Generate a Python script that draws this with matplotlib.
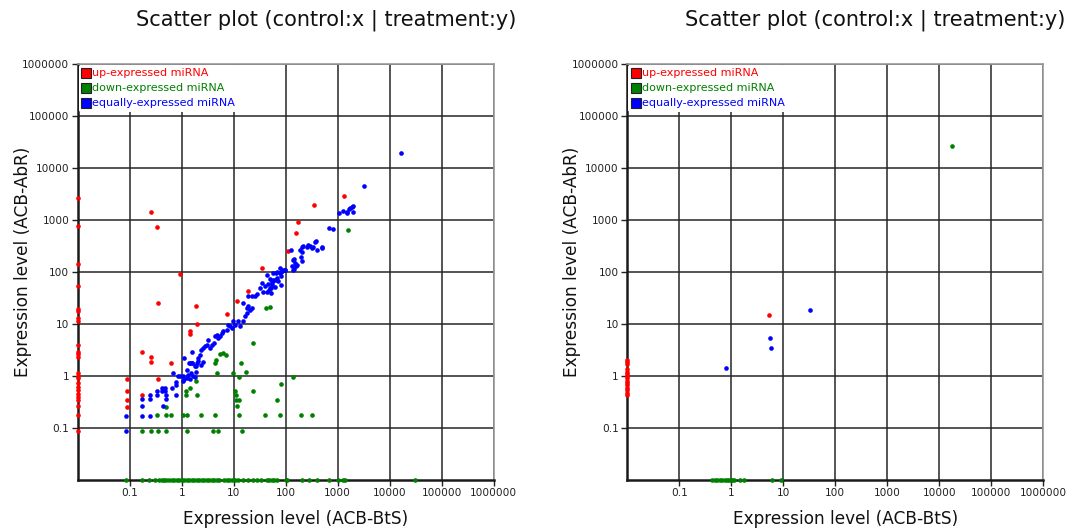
import numpy as np
import matplotlib
matplotlib.use("Agg")
import matplotlib.pyplot as plt
from matplotlib.lines import Line2D

# ---------------- text ----------------
title = "Scatter plot (control:x | treatment:y)"
xlabel = "Expression level (ACB-BtS)"
ylabel = "Expression level (ACB-AbR)"
legend_labels = ["up-expressed miRNA", "down-expressed miRNA", "equally-expressed miRNA"]
colors = ["#ff0000", "#008000", "#0000ff"]
tick_values = [0.1, 1, 10, 100, 1000, 10000, 100000, 1000000]
tick_labels = ["0.1", "1", "10", "100", "1000", "10000", "100000", "1000000"]
floor_value = 0.01   # zero expression drawn on the axis floor

# ---------------- left panel data ----------------
up1_zero_y = [2700, 780, 143, 55, 19.5, 17.8, 13.2, 11.4, 3.9, 2.9, 2.65, 2.35, 1.12, 1.0,
              0.9, 0.72, 0.62, 0.54, 0.46, 0.4, 0.35, 0.26, 0.18, 0.088]
up1_x = [0.254, 0.335, 0.93, 34.5, 19, 112, 157, 170, 1320, 356, 11.8, 7.3, 1.86, 1.94, 1.45,
         1.45, 0.35, 0.175, 0.26, 0.26, 0.61, 0.35, 0.09, 0.09, 0.09, 0.09, 0.175]
up1_y = [1425, 724, 92, 118, 44, 250, 555, 900, 2930, 1940, 28, 15.6, 21.9, 10, 7.2,
         6.5, 25.7, 2.94, 2.35, 1.83, 1.75, 0.875, 0.875, 0.51, 0.345, 0.257, 0.44]

down1_x = [1580, 50, 42.5, 24, 14, 17, 12.6, 9.9, 4.6, 4.85, 5.5, 6.3, 7.2, 4.3, 138, 80, 69,
           23, 10.7, 11, 11.3, 11.7, 12.6, 1.47, 2.0, 1.23, 1.23, 0.51, 1.9,
           0.34, 0.51, 0.61, 1.06, 1.28, 2.3, 4.3, 12.6, 39.5, 78, 196, 316,
           0.175, 0.26, 0.35, 0.51, 1.28, 3.95, 5.0, 14.3]
down1_y = [635, 21.6, 20, 4.4, 1.75, 1.21, 0.97, 1.16, 2.03, 1.16, 2.6, 2.73, 2.53, 1.8, 0.97, 0.69, 0.345,
           0.52, 0.52, 0.43, 0.345, 0.26, 0.345, 0.6, 0.44, 0.44, 0.52, 0.257, 0.8,
           0.175, 0.175, 0.175, 0.175, 0.175, 0.175, 0.175, 0.175, 0.175, 0.175, 0.175, 0.175,
           0.088, 0.088, 0.088, 0.088, 0.088, 0.088, 0.088, 0.088]
down1_zero_x = [0.085, 0.17, 0.24, 0.31, 0.36, 0.41, 0.46, 0.51, 0.58, 0.64, 0.71, 0.8, 0.9, 1.0,
                1.11, 1.25, 1.4, 1.56, 1.73, 1.94, 2.19, 2.43, 2.69, 3.02, 3.4, 3.78, 4.2, 4.7,
                5.3, 6.5, 7.3, 8.3, 9.3, 10.6, 12.3, 15.3, 19, 24, 27.6, 33, 43, 48.5, 54, 60,
                69, 100, 105, 203, 285, 395, 690, 1030, 1250, 1380, 30700]

equal1_x = [16500, 3160, 1060, 1250, 1490, 1670, 1860, 2000, 1940, 1530, 1720, 671, 815,
            125, 188, 203, 218, 253, 272, 293, 316, 340, 366, 383, 395, 490, 500, 203, 147, 194,
            209, 134, 158, 136, 78, 83, 90, 97, 65, 58, 54, 50, 80, 62, 52, 136, 151, 163, 145,
            97, 84, 78, 67, 58, 50, 44, 54, 46, 40, 35, 32, 37, 28.5, 25.7, 22, 19, 43, 48.5,
            51.6, 55, 62, 67, 72, 81,
            14.9, 17.8, 19, 20.6, 22, 17.8, 16.5, 15.3, 13.3, 12.3, 10.6, 9.9, 9.1, 8.5, 7.9,
            7.3, 6.3, 5.9, 5.5, 5.1, 4.7, 4.4, 4.1, 3.8, 3.5, 3.26, 3.0, 2.8, 2.6, 2.4, 2.25,
            2.1, 2.6, 2.4, 1.94, 1.8, 1.56, 1.45, 1.25, 1.08, 1.08, 1.68,
            0.085, 0.085, 0.17, 0.17, 0.17, 0.25, 0.25, 0.25, 0.34, 0.34, 0.42, 0.48, 0.42, 0.48,
            0.51, 0.51, 0.43, 0.66, 0.77, 0.77, 0.76, 0.67, 0.84, 0.93, 1.13, 1.25, 1.34, 1.45,
            1.49, 1.1, 1.4, 1.56, 1.6, 1.89, 2.1, 1.89, 1.8]
equal1_y = [19400, 4500, 1380, 1510, 1450, 1610, 1800, 1860, 1450, 1380, 1680, 710, 660,
            265, 265, 298, 316, 298, 330, 316, 286, 307, 383, 395, 265, 307, 286, 246, 178, 197,
            163, 130, 130, 109, 118, 98, 109, 109, 94, 70, 61, 48.5, 56, 52, 40, 173, 148, 138, 116,
            111, 103, 96, 98, 96, 73, 89, 66, 60, 55, 61, 49, 42, 38, 34, 35, 35, 42, 46,
            49, 57, 69, 77, 66, 85,
            25, 20.3, 21.9, 18.9, 20.3, 16.3, 14, 11.2, 9.0, 11.2, 9.7, 11.2, 8.4, 9.0, 9.7,
            7.8, 7.2, 6.7, 6.0, 5.4, 6.2, 5.8, 4.3, 4.0, 3.45, 5.0, 4.0, 3.7, 3.45, 3.2, 2.57,
            2.2, 1.9, 1.65, 1.78, 1.53, 1.78, 1.78, 1.32, 1.01, 0.79, 0.99,
            0.17, 0.088, 0.355, 0.265, 0.17, 0.44, 0.355, 0.17, 0.52, 0.44, 0.6, 0.6, 0.52, 0.52,
            0.44, 0.355, 0.265, 0.6, 0.67, 0.78, 0.44, 1.16, 1.0, 1.0, 0.86, 0.93, 1.04, 0.86,
            1.12, 2.19, 1.75, 1.8, 2.94, 1.56, 1.94, 1.21, 0.97]

# ---------------- right panel data ----------------
up2_zero_y = [2.03, 1.83, 1.68, 1.34, 1.21, 1.09, 1.0, 0.9, 0.81, 0.74, 0.67, 0.6, 0.54, 0.48, 0.43]
up2_x = [5.2]
up2_y = [14.9]
down2_x = [17800]
down2_y = [26500]
down2_zero_x = [0.43, 0.48, 0.54, 0.6, 0.67, 0.74, 0.84, 0.9, 0.97, 1.05, 1.13, 1.47, 1.75, 6.1, 8.9]
equal2_x = [32, 5.5, 5.8, 0.78]
equal2_y = [18.6, 5.5, 3.5, 1.4]


def combine(zero_x, zero_y, xs, ys):
    x = np.array(list(zero_x) + list(xs), dtype=float)
    y = np.array(list(zero_y) + list(ys), dtype=float)
    return np.where(x > 0, x, floor_value), np.where(y > 0, y, floor_value)


panels = [
    dict(up=combine([0] * len(up1_zero_y), up1_zero_y, up1_x, up1_y),
         down=combine(down1_zero_x, [0] * len(down1_zero_x), down1_x, down1_y),
         equal=combine([], [], equal1_x, equal1_y),
         left=77.7),
    dict(up=combine([0] * len(up2_zero_y), up2_zero_y, up2_x, up2_y),
         down=combine(down2_zero_x, [0] * len(down2_zero_x), down2_x, down2_y),
         equal=combine([], [], equal2_x, equal2_y),
         left=627.3),
]

W, H = 1080, 531
fig = plt.figure(figsize=(W / 100, H / 100), dpi=100)
plt.rcParams["font.family"] = ["DejaVu Sans"]

for p in panels:
    ax = fig.add_axes([p["left"] / W, (H - 480) / H, 416 / W, 416 / H])
    ax.set_xscale("log")
    ax.set_yscale("log")
    ax.set_xlim(floor_value, 1e6)
    ax.set_ylim(floor_value, 1e6)
    ax.set_xticks(tick_values)
    ax.set_xticklabels(tick_labels)
    ax.set_yticks(tick_values)
    ax.set_yticklabels(tick_labels)
    ax.minorticks_off()
    ax.tick_params(axis="both", labelsize=7.6, length=4, width=1, color="#222222", pad=2,
                   labelcolor="#222222")
    ax.grid(True, color="#262626", linewidth=1.1)
    ax.set_axisbelow(True)
    for side in ("left", "bottom"):
        ax.spines[side].set_linewidth(1.8)
        ax.spines[side].set_color("#1a1a1a")
    for side in ("top", "right"):
        ax.spines[side].set_linewidth(1.2)
        ax.spines[side].set_color("#9a9a9a")

    for key, c in zip(("up", "down", "equal"), colors):
        x, y = p[key]
        ax.scatter(x, y, s=11, c=c, linewidths=0, zorder=5, clip_on=False)

    handles = [Line2D([], [], marker="s", linestyle="none", markersize=6.5,
                      markerfacecolor=c, markeredgecolor="#222222", markeredgewidth=0.8)
               for c in colors]
    leg = ax.legend(handles, legend_labels, loc="upper left", bbox_to_anchor=(0, 1),
                    fontsize=8, frameon=True, facecolor="white", edgecolor="none",
                    framealpha=1, borderaxespad=0.1, borderpad=0.3, handlelength=0.75,
                    handletextpad=0.15, labelspacing=0.45, labelcolor=colors)
    leg.set_zorder(6)

    cx = p["left"] + 208
    fig.text((cx + 40) / W, 1 - 20 / H, title, ha="center", va="center", fontsize=15,
             color="#111111")
    fig.text((cx + 10) / W, 1 - 519 / H, xlabel, ha="center", va="center", fontsize=12.2,
             color="#111111")
    fig.text((p["left"] - 55) / W, 1 - 262 / H, ylabel, ha="center", va="center",
             fontsize=12.2, rotation=90, color="#111111")

fig.savefig("out.png", dpi=100)
